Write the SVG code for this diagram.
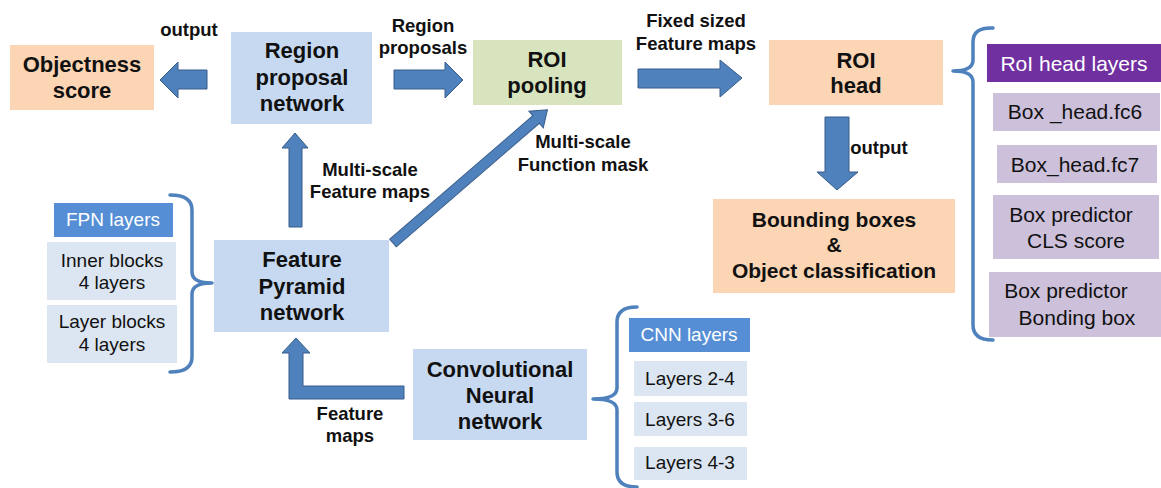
<svg xmlns="http://www.w3.org/2000/svg" width="1161" height="488" viewBox="0 0 1161 488">
<style>
text{font-family:"Liberation Sans",Arial,sans-serif;text-anchor:middle;fill:#111}
.t{font-size:22px;font-weight:bold}
.t2{font-size:21px;font-weight:bold}
.l{font-size:18.5px;font-weight:bold}
.r{font-size:21px}
.s{font-size:19px}
.w{fill:#fff}
.peach{fill:#FCD5B4}
.blue{fill:#C6D9F1}
.green{fill:#D7E4BD}
.pale{fill:#DCE6F2}
.mid{fill:#558ED5}
.purple{fill:#7030A0}
.lav{fill:#CCC0DA}
.arrow{fill:#4F81BD;stroke:#385D8A;stroke-width:1}
.brace{fill:none;stroke:#4F81BD;stroke-width:3.5;stroke-linejoin:round;stroke-linecap:round}
</style>

<g id="connectors">
  <!-- RPN -> Objectness -->
  <path class="arrow" d="M207,70 L178,70 L178,62 L160,80 L178,98 L178,89 L207,89 Z"/>
  <!-- RPN -> ROI pooling -->
  <path class="arrow" d="M394,70 L445,70 L445,62 L463,80 L445,98 L445,89 L394,89 Z"/>
  <!-- ROI pooling -> ROI head -->
  <path class="arrow" d="M638,69 L720,69 L720,60 L742,78 L720,97 L720,88 L638,88 Z"/>
  <!-- ROI head -> Bounding boxes -->
  <path class="arrow" d="M825,117 L849,117 L849,172 L858,172 L837,190 L817,172 L825,172 Z"/>
  <!-- FPN -> RPN -->
  <path class="arrow" d="M289,227 L289,148 L282,148 L295,133 L308,148 L302,148 L302,227 Z"/>
  <!-- FPN -> ROI pooling (diagonal) -->
  <path class="arrow" transform="translate(393,243) rotate(-40.8)" d="M0,-5 L189,-5 L189,-11 L204,0 L189,11 L189,5 L0,5 Z"/>
  <!-- CNN -> FPN (elbow) -->
  <path class="arrow" d="M404,386 L404,399 L289,399 L289,353 L282,353 L296,338 L310,353 L303,353 L303,386 Z"/>
  <!-- braces -->
  <path class="brace" d="M993,28 Q973,27 973,42 L973,60 Q973,71 953,71 Q973,71 973,82 L973,325 Q973,340 993,340"/>
  <path class="brace" d="M170,195 Q192,195 192,210 L192,272 Q192,283 212,283 Q192,283 192,294 L192,357 Q192,372 170,372"/>
  <path class="brace" d="M637,307 Q617,307 617,322 L617,388 Q617,399 593,399 Q617,399 617,410 L617,472 Q617,487 637,487"/>
</g>

<g id="label-output-top"><text class="l" x="189" y="36">output</text></g>
<g id="label-region-proposals"><text class="l" x="423" y="32">Region</text><text class="l" x="423" y="54">proposals</text></g>
<g id="label-fixed"><text class="l" x="696" y="27">Fixed sized</text><text class="l" x="696" y="50">Feature maps</text></g>
<g id="label-output-right"><text class="l" x="879" y="154">output</text></g>
<g id="label-multiscale-fm"><text class="l" x="370" y="176">Multi-scale</text><text class="l" x="370" y="198">Feature maps</text></g>
<g id="label-multiscale-mask"><text class="l" x="583" y="148">Multi-scale</text><text class="l" x="583" y="171">Function mask</text></g>
<g id="label-feature-maps"><text class="l" x="350" y="420">Feature</text><text class="l" x="350" y="442">maps</text></g>

<g id="objectness">
  <rect class="peach" x="10" y="45" width="144" height="65"/>
  <text class="t" x="82" y="72">Objectness</text>
  <text class="t" x="82" y="98">score</text>
</g>
<g id="rpn">
  <rect class="blue" x="231" y="32" width="141" height="92"/>
  <text class="t" x="302" y="58">Region</text>
  <text class="t" x="302" y="85">proposal</text>
  <text class="t" x="302" y="111">network</text>
</g>
<g id="roi-pooling">
  <rect class="green" x="473" y="40" width="149" height="65"/>
  <text class="t" x="547" y="67">ROI</text>
  <text class="t" x="547" y="93">pooling</text>
</g>
<g id="roi-head">
  <rect class="peach" x="769" y="40" width="174" height="65"/>
  <text class="t" x="856" y="68">ROI</text>
  <text class="t" x="856" y="93">head</text>
</g>
<g id="bounding">
  <rect class="peach" x="713" y="199" width="242" height="94"/>
  <text class="t2" x="834" y="227">Bounding boxes</text>
  <text class="t2" x="834" y="252">&amp;</text>
  <text class="t2" x="834" y="278">Object classification</text>
</g>
<g id="roi-head-layers">
  <rect class="purple" x="987" y="44" width="174" height="38"/>
  <text class="r w" x="1074" y="71">RoI head layers</text>
</g>
<g id="fc6">
  <rect class="lav" x="993" y="93" width="167" height="38"/>
  <text class="r" x="1075" y="119">Box _head.fc6</text>
</g>
<g id="fc7">
  <rect class="lav" x="997" y="145" width="160" height="38"/>
  <text class="r" x="1075" y="172">Box_head.fc7</text>
</g>
<g id="cls">
  <rect class="lav" x="993" y="195" width="166" height="64"/>
  <text class="r" x="1071" y="222">Box predictor</text>
  <text class="r" x="1076" y="248">CLS score</text>
</g>
<g id="bbox">
  <rect class="lav" x="989" y="272" width="172" height="65"/>
  <text class="r" x="1066" y="298">Box predictor</text>
  <text class="r" x="1077" y="325">Bonding box</text>
</g>
<g id="fpn-layers">
  <rect class="mid" x="54" y="203" width="119" height="34"/>
  <text class="s w" x="113" y="226">FPN layers</text>
</g>
<g id="inner-blocks">
  <rect class="pale" x="47" y="242" width="129" height="58"/>
  <text class="s" x="112" y="267">Inner blocks</text>
  <text class="s" x="112" y="289">4 layers</text>
</g>
<g id="layer-blocks">
  <rect class="pale" x="47" y="305" width="130" height="58"/>
  <text class="s" x="112" y="328">Layer blocks</text>
  <text class="s" x="112" y="351">4 layers</text>
</g>
<g id="fpn">
  <rect class="blue" x="214" y="240" width="175" height="92"/>
  <text class="t" x="302" y="267">Feature</text>
  <text class="t" x="302" y="294">Pyramid</text>
  <text class="t" x="302" y="320">network</text>
</g>
<g id="cnn">
  <rect class="blue" x="413" y="349" width="174" height="91"/>
  <text class="t" x="500" y="377">Convolutional</text>
  <text class="t" x="500" y="403">Neural</text>
  <text class="t" x="500" y="429">network</text>
</g>
<g id="cnn-layers">
  <rect class="mid" x="629" y="318" width="121" height="34"/>
  <text class="s w" x="689" y="341">CNN layers</text>
</g>
<g id="layers24">
  <rect class="pale" x="634" y="361" width="113" height="35"/>
  <text class="s" x="690" y="385">Layers 2-4</text>
</g>
<g id="layers36">
  <rect class="pale" x="634" y="402" width="113" height="34"/>
  <text class="s" x="690" y="426">Layers 3-6</text>
</g>
<g id="layers43">
  <rect class="pale" x="634" y="447" width="113" height="33"/>
  <text class="s" x="690" y="469">Layers 4-3</text>
</g>
</svg>
